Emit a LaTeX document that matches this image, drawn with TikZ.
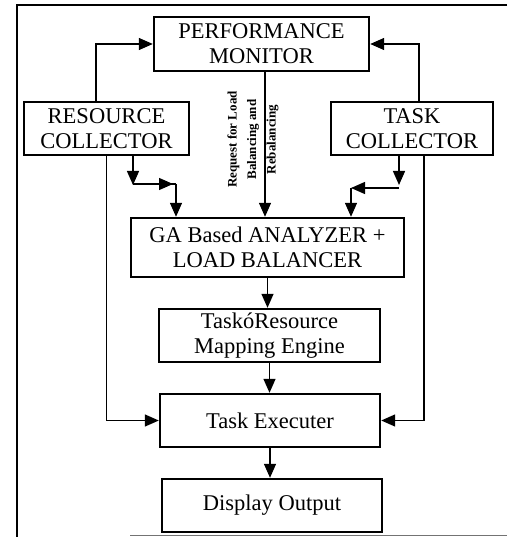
\documentclass[tikz,border=0pt]{standalone}
\usepackage{fontspec}
\setmainfont{Liberation Serif}
\usetikzlibrary{arrows.meta,positioning}

\begin{document}
\begin{tikzpicture}[x=1pt,y=-1pt,
  box/.style={draw,line width=2.4pt,rectangle,inner sep=0pt,align=center,
    font=\fontsize{22.5}{25}\selectfont},
  arr/.style={line width=1.4pt,-{Triangle[length=14pt,width=12pt]}},
  link/.style={line width=1.4pt}]
\useasboundingbox (0,0) rectangle (507,537);

% outer frame (open on the right)
\draw[line width=2pt] (507,5) -- (17,5) -- (17,537);
\draw[line width=1.6pt,black!55] (130,535.5) -- (507,535.5);

% blocks
\node[box,minimum width=215pt,minimum height=54pt] (pm) at (261.5,44) {PERFORMANCE\\MONITOR};
\node[box,minimum width=165pt,minimum height=53pt] (rc) at (106.5,128.5) {RESOURCE\\COLLECTOR};
\node[box,minimum width=162pt,minimum height=53pt] (tc) at (412,128.5) {TASK\\COLLECTOR};
\node[box,minimum width=273pt,minimum height=59pt] (ga) at (267.5,247.5) {GA Based ANALYZER +\\LOAD BALANCER};
\node[box,minimum width=221pt,minimum height=53pt] (me) at (269.5,335.5) {TaskóResource\\Mapping Engine};
\node[box,minimum width=220pt,minimum height=53pt] (te) at (270,420.5) {Task Executer};
\node[box,minimum width=220pt,minimum height=53pt] (do) at (272,505.5) {Display Output};

% collectors report to the performance monitor
\draw[arr] ([xshift=-10.5pt]rc.north) |- (pm.west);
\draw[arr] ([xshift=7pt]tc.north) |- (pm.east);

% request for load balancing
\coordinate (cx) at (265,0);
\draw[arr] (pm.south -| cx) -- (ga.north -| cx);
\node[rotate=90,align=center,font=\bfseries\fontsize{13}{19.5}\selectfont] (req) at (253,139.5)
  {Request for Load\\Balancing and\\Rebalancing};

% resource collector into the analyzer
\coordinate (lj1) at (133,184);
\coordinate (lj2) at (176,184);
\draw[arr] (rc.south -| lj1) -- ([yshift=-1pt]lj1);
\draw[link] (lj1) -- (lj2);
\draw[arr] (lj1) -- ([xshift=-3pt]lj2);
\draw[arr] (lj2) -- (ga.north -| lj2);

% task collector into the analyzer
\coordinate (rj1) at (399,188);
\coordinate (rj2) at (351,188);
\draw[arr] (tc.south -| rj1) -- ([yshift=3pt]rj1);
\draw[arr] (rj1) -- (rj2);
\draw[arr] (rj2) -- (ga.north -| rj2);

% collectors straight to the executer
\draw[arr] (rc.south) |- (te.west);
\draw[arr] ([xshift=12pt]tc.south) |- (te.east);

% main chain
\draw[arr] (ga.south) -- (me.north -| ga.south);
\draw[arr] (me.south) -- (te.north -| me.south);
\draw[arr] (te.south) -- (do.north -| te.south);
\end{tikzpicture}
\end{document}
